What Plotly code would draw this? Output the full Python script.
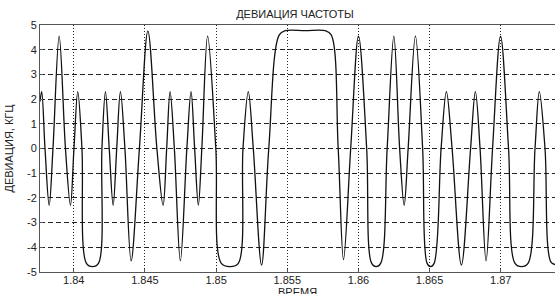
import plotly.graph_objects as go

# Time samples (s): extrema, zero crossings and shoulders
time_s = [
    1.837628, 1.837747, 1.837979, 1.838273, 1.83854, 1.838975, 1.839417, 1.839768,
    1.840014, 1.840281, 1.840576, 1.840891, 1.841313, 1.841734, 1.841979, 1.842225,
    1.842492, 1.842766, 1.843018, 1.843278, 1.843594, 1.844029, 1.844612, 1.845208,
    1.84584, 1.846275, 1.846528, 1.846766, 1.847068, 1.847489, 1.847946, 1.84824,
    1.848493, 1.848753, 1.848998, 1.849405, 1.849981, 1.850367, 1.850999, 1.85156,
    1.85189, 1.852262, 1.852613, 1.853196, 1.853701, 1.854438, 1.854859, 1.856263,
    1.857667, 1.858088, 1.858579, 1.858951, 1.859457, 1.860004, 1.86058, 1.860931,
    1.861247, 1.861562, 1.862019, 1.862489, 1.862896, 1.863212, 1.863493, 1.864005,
    1.864511, 1.864826, 1.865072, 1.865318, 1.865809, 1.866181, 1.866581, 1.867234,
    1.86788, 1.868216, 1.868546, 1.868967, 1.869424, 1.869985, 1.870547, 1.871003,
    1.871459, 1.871915, 1.872407, 1.872709, 1.873109, 1.87353, 1.873881,
]
# Frequency deviation (kHz) at those times
deviation_khz = [
    1.9, 2.3, 0.0, -2.3, 0.0, 4.55, 0.0, -2.3,
    0.0, 2.3, 0.0, -4.65, -4.78, -4.65, 0.0, 2.3,
    0.0, -2.3, 0.0, 2.3, 0.0, -4.55, 0.0, 4.75,
    0.0, -2.3, 0.0, 2.3, 0.0, -4.55, 0.0, 2.3,
    0.0, -2.3, 0.0, 4.55, 0.0, -4.65, -4.78, -4.65,
    0.0, 2.3, 0.0, -4.72, 0.0, 4.6, 4.77, 4.77,
    4.77, 4.6, 0.0, -4.5, 0.0, 4.55, 0.0, -4.65,
    -4.78, -4.65, 0.0, 4.55, 0.0, -2.3, 0.0, 4.55,
    0.0, -4.65, -4.78, -4.65, 0.0, 2.3, 0.0, -4.72,
    0.0, 2.3, 0.0, -4.55, 0.0, 4.55, 0.0, -4.65,
    -4.78, -4.65, 0.0, 2.3, 0.0, -4.6, -4.7,
]

x_ticks = [1.84, 1.845, 1.85, 1.855, 1.86, 1.865, 1.87]
x_tick_labels = ["1.84", "1.845", "1.85", "1.855", "1.86", "1.865", "1.87"]
y_ticks = [-5, -4, -3, -2, -1, 0, 1, 2, 3, 4, 5]
y_tick_labels = ["-5", "-4", "-3", "-2", "-1", "0", "1", "2", "3", "4", "5"]

title_text = "ДЕВИАЦИЯ ЧАСТОТЫ"
x_label = "ВРЕМЯ"
y_label = "ДЕВИАЦИЯ, КГЦ"

FONT = "Liberation Sans, Arial, sans-serif"

fig = go.Figure()
fig.add_trace(go.Scatter(
    x=time_s, y=deviation_khz, mode="lines",
    line=dict(color="#111111", width=1.3, shape="spline", smoothing=1.0),
    hoverinfo="skip", showlegend=False,
))

fig.update_layout(
    width=555, height=294,
    margin=dict(l=40, r=0, t=25, b=22),
    paper_bgcolor="white", plot_bgcolor="white",
    font=dict(family=FONT, size=11, color="#222222"),
    title=dict(text=title_text, x=0.5315, xref="container", xanchor="center",
               y=1 - 14 / 294, yref="container", yanchor="middle",
               font=dict(family=FONT, size=11, color="#222222")),
    xaxis=dict(
        range=[1.837628, 1.873811], tickvals=x_ticks, ticktext=x_tick_labels,
        showgrid=True, gridcolor="#222222", gridwidth=1, griddash="1px,2px",
        showline=True, linecolor="#555555", linewidth=1, mirror=True,
        ticks="inside", ticklen=3, tickcolor="#555555", ticklabelstandoff=-2,
        zeroline=False, tickfont=dict(size=11),
    ),
    yaxis=dict(
        range=[-5, 5], tickvals=y_ticks, ticktext=y_tick_labels,
        showgrid=True, gridcolor="#222222", gridwidth=1, griddash="5px,3px",
        showline=True, linecolor="#555555", linewidth=1, mirror=False,
        ticks="inside", ticklen=3, tickcolor="#555555",
        zeroline=False, tickfont=dict(size=11),
    ),
    annotations=[
        dict(text=x_label, x=0.5, xref="paper", y=(272 - 292) / 247, yref="paper",
             yanchor="middle", showarrow=False, font=dict(size=11)),
        dict(text=y_label, x=(8 - 40) / 515, y=0.5, xref="paper", yref="paper",
             xanchor="center", textangle=-90, showarrow=False, font=dict(size=11)),
    ],
)

fig.write_html(
    "out.html",
    config={"displayModeBar": False},
    post_script="document.body.style.margin='0';document.body.style.overflow='hidden';",
)
